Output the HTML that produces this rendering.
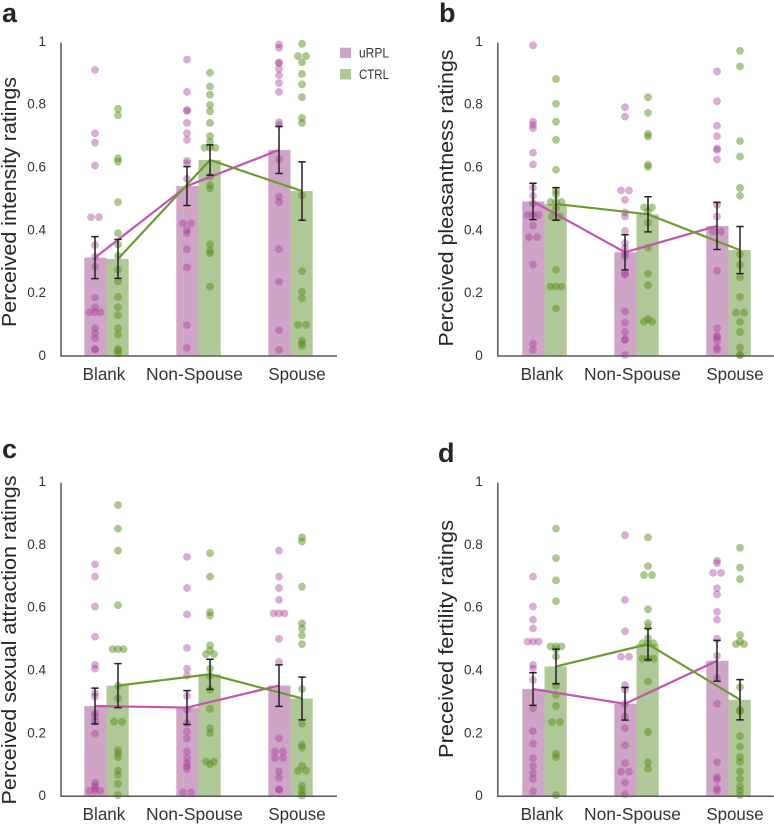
<!DOCTYPE html>
<html lang="en">
<head>
<meta charset="utf-8">
<title>Perceived ratings by odor condition</title>
<style>
html,body{margin:0;padding:0;background:#fff;}
#figure{display:block;width:774px;height:824px;font-family:"Liberation Sans",sans-serif;filter:blur(0.3px);}
</style>
</head>
<body>
<svg id="figure" xmlns="http://www.w3.org/2000/svg" width="774" height="824" viewBox="0 0 774 824"></svg>
<script>
const categories = ['Blank', 'Non-Spouse', 'Spouse'];
const yTicks = [0, 0.2, 0.4, 0.6, 0.8, 1];
const yTickLabels = ['0', '0.2', '0.4', '0.6', '0.8', '1'];

const aUrplMeans = [0.311, 0.539, 0.654];
const aCtrlMeans = [0.307, 0.622, 0.523];
const aUrplErr = [0.067, 0.062, 0.075];
const aCtrlErr = [0.062, 0.048, 0.093];
const aUrplDots = [
  [0.909,0.707,0.677,0.604,0.44,0.44,0.351,0.314,0.282,0.184,0.153,0.137,0.137,0.137,0.086,0.07,0.054,0.02,0.018],
  [0.942,0.839,0.781,0.778,0.74,0.707,0.686,0.619,0.612,0.562,0.42,0.42,0.399,0.389,0.338,0.28,0.096,0.024],
  [0.99,0.979,0.933,0.93,0.912,0.892,0.867,0.839,0.742,0.734,0.624,0.505,0.488,0.338,0.235,0.08,0.017]
];
const aCtrlDots = [
  [0.785,0.764,0.627,0.617,0.488,0.389,0.353,0.317,0.272,0.235,0.186,0.153,0.128,0.086,0.066,0.02,0.015,0.006],
  [0.9,0.856,0.83,0.797,0.777,0.74,0.698,0.68,0.661,0.661,0.661,0.569,0.542,0.532,0.353,0.333,0.325,0.219],
  [0.992,0.953,0.953,0.933,0.896,0.863,0.822,0.756,0.74,0.509,0.268,0.202,0.182,0.097,0.097,0.047,0.038,0.03]
];

const bUrplMeans = [0.49, 0.328, 0.412];
const bCtrlMeans = [0.482, 0.449, 0.335];
const bUrplErr = [0.058, 0.056, 0.075];
const bCtrlErr = [0.052, 0.056, 0.075];
const bUrplDots = [
  [0.987,0.744,0.734,0.723,0.645,0.608,0.534,0.508,0.484,0.447,0.447,0.447,0.413,0.376,0.376,0.289,0.037,0.017],
  [0.79,0.76,0.525,0.525,0.495,0.455,0.442,0.396,0.357,0.341,0.325,0.314,0.261,0.256,0.14,0.104,0.074,0.051,0.049,0.001],
  [0.904,0.809,0.731,0.698,0.659,0.654,0.624,0.479,0.442,0.394,0.394,0.269,0.086,0.062,0.057,0.047,0.025,0.017]
];
const bCtrlDots = [
  [0.88,0.801,0.744,0.686,0.591,0.524,0.513,0.488,0.488,0.488,0.468,0.442,0.442,0.272,0.219,0.219,0.219,0.149],
  [0.822,0.772,0.705,0.697,0.607,0.6,0.471,0.471,0.458,0.422,0.343,0.26,0.223,0.115,0.107,0.107],
  [0.97,0.92,0.682,0.633,0.533,0.508,0.322,0.288,0.248,0.186,0.136,0.136,0.107,0.074,0.025,0.002,0]
];

const cUrplMeans = [0.285, 0.28, 0.35];
const cCtrlMeans = [0.35, 0.386, 0.309];
const cUrplErr = [0.057, 0.054, 0.066];
const cCtrlErr = [0.07, 0.048, 0.068];
const cUrplDots = [
  [0.736,0.697,0.602,0.506,0.416,0.404,0.326,0.315,0.262,0.252,0.236,0.197,0.041,0.031,0.023,0.015,0.015,0.015],
  [0.76,0.661,0.577,0.47,0.404,0.382,0.317,0.273,0.23,0.204,0.182,0.14,0.119,0.103,0.094,0.085,0.01,0.01],
  [0.78,0.697,0.661,0.623,0.58,0.58,0.58,0.499,0.425,0.182,0.14,0.14,0.119,0.119,0.077,0.057,0.02,0.018]
];
const cCtrlDots = [
  [0.925,0.85,0.78,0.606,0.466,0.466,0.466,0.35,0.31,0.235,0.235,0.145,0.135,0.122,0.08,0.066,0.037,0.001],
  [0.772,0.697,0.584,0.573,0.478,0.462,0.45,0.45,0.404,0.381,0.337,0.276,0.214,0.199,0.108,0.108,0.1],
  [0.822,0.809,0.665,0.548,0.532,0.51,0.482,0.339,0.228,0.161,0.153,0.094,0.079,0.079,0.031,0.018,0.007,0]
];

const dUrplMeans = [0.339, 0.292, 0.429];
const dCtrlMeans = [0.411, 0.482, 0.305];
const dUrplErr = [0.052, 0.052, 0.065];
const dCtrlErr = [0.055, 0.05, 0.064];
const dUrplDots = [
  [0.697,0.602,0.56,0.532,0.49,0.49,0.49,0.416,0.404,0.368,0.278,0.205,0.165,0.119,0.094,0.071,0.053,0.013],
  [0.829,0.623,0.523,0.442,0.442,0.352,0.337,0.292,0.252,0.214,0.16,0.103,0.076,0.076,0.041,0.004],
  [0.748,0.74,0.709,0.709,0.66,0.64,0.585,0.56,0.499,0.445,0.374,0.292,0.106,0.058,0.05,0.023,0.015]
];
const dCtrlDots = [
  [0.85,0.756,0.685,0.619,0.475,0.475,0.475,0.466,0.443,0.35,0.321,0.285,0.234,0.234,0.133,0.122,0.001],
  [0.822,0.73,0.702,0.702,0.593,0.549,0.536,0.501,0.485,0.485,0.485,0.436,0.436,0.436,0.363,0.202,0.106,0.086],
  [0.789,0.726,0.689,0.511,0.49,0.482,0.482,0.345,0.273,0.268,0.189,0.156,0.122,0.107,0.077,0.053,0.029,0.015,0.001]
];

const legendLabels = ['uRPL', 'CTRL'];

const SVG_NS = 'http://www.w3.org/2000/svg';
const svg = document.getElementById('figure');
const UNIT = 314;
const STEP = 92;
const FIRST_GROUP = 106.5;
const DOT_GAP = 11.5;
const BAR_W = 22.2;
const LABEL_SHIFT = [-2.5, -4, 6.5];
const LABEL_W = [42.7, 97, 57.3];
const COLORS = {
  urpl: {bar: '#cfa5c7', dot: '#a83c98', line: '#c454ae'},
  ctrl: {bar: '#b0c797', dot: '#5a8f20', line: '#6c9c30'}
};

function make(tag, attrs, parent) {
  const el = document.createElementNS(SVG_NS, tag);
  Object.keys(attrs).forEach(function (k) { el.setAttribute(k, attrs[k]); });
  parent.appendChild(el);
  return el;
}

function swarmOffsets(values) {
  const counts = {};
  values.forEach(function (v) { counts[v] = (counts[v] || 0) + 1; });
  const seen = {};
  return values.map(function (v) {
    const n = counts[v];
    const k = seen[v] || 0;
    seen[v] = k + 1;
    if (n === 1) return 0;
    if (n === 2) return k === 0 ? -4 : 4;
    return (k - (n - 1) / 2) * 5.5;
  });
}

function drawPanel(p) {
  const g = make('g', {}, svg);
  
  
  const y = function (v) { return p.y0 - UNIT * v; };
  const x = function (i) { return FIRST_GROUP + p.dx + STEP * i; };

  const series = [
    {key: 'urpl', sign: -1, means: p.urplMeans, err: p.urplErr, dots: p.urplDots},
    {key: 'ctrl', sign: 1, means: p.ctrlMeans, err: p.ctrlErr, dots: p.ctrlDots}
  ];

  series.forEach(function (s) {
    s.means.forEach(function (m, i) {
      const left = s.sign < 0 ? x(i) - BAR_W : x(i);
      const bar = make('rect', {x: left, y: y(m), width: BAR_W, height: y(0) - y(m), fill: COLORS[s.key].bar}, g);
      
      
    });
  });

  series.forEach(function (s) {
    s.dots.forEach(function (list, i) {
      const offs = swarmOffsets(list);
      list.forEach(function (v, j) {
        const c = make('circle', {cx: x(i) + s.sign * DOT_GAP + offs[j], cy: y(v), r: 3.9, fill: COLORS[s.key].dot, 'fill-opacity': s.key === 'urpl' ? 0.42 : 0.5}, g);
        
        
      });
    });
  });

  const axis = make('path', {d: 'M' + p.axisX + ' ' + (p.y0 - 312.7) + 'V' + (p.y0 + 0.7) + 'H' + (p.axisX + 276), fill: 'none', stroke: '#595959', 'stroke-width': 1.5}, g);
  
  

  series.forEach(function (s) {
    const pts = s.means.map(function (m, i) { return (x(i) + s.sign * DOT_GAP) + ',' + y(m); }).join(' ');
    const line = make('polyline', {points: pts, fill: 'none', stroke: COLORS[s.key].line, 'stroke-width': 2.2}, g);
    
    
  });

  series.forEach(function (s) {
    s.means.forEach(function (m, i) {
      const cx = x(i) + s.sign * DOT_GAP;
      const hi = y(m + s.err[i]);
      const lo = y(m - s.err[i]);
      const d = 'M' + cx + ' ' + hi + 'V' + lo + 'M' + (cx - 3.7) + ' ' + hi + 'H' + (cx + 3.7) + 'M' + (cx - 3.7) + ' ' + lo + 'H' + (cx + 3.7);
      const e = make('path', {d: d, fill: 'none', stroke: '#222222', 'stroke-width': 1.5}, g);
      
      
    });
  });

  yTicks.forEach(function (t, i) {
    const lab = make('text', {x: p.axisX - 15, y: y(t) + 4.6, 'text-anchor': 'end', 'font-size': 13.5, fill: '#333333'}, g);
    lab.textContent = yTickLabels[i];
    
    
  });

  categories.forEach(function (c, i) {
    const lab = make('text', {x: x(i) + LABEL_SHIFT[i], y: p.y0 + 24.7, 'text-anchor': 'middle', 'font-size': 17.5, fill: '#333333', textLength: LABEL_W[i], lengthAdjust: 'spacingAndGlyphs'}, g);
    lab.textContent = c;
    
    
  });

  const title = make('text', {transform: 'translate(' + p.titleX + ' ' + p.titleY + ') rotate(-90)', 'text-anchor': 'middle', 'font-size': 20.5, fill: '#262626', textLength: p.titleLen, lengthAdjust: 'spacingAndGlyphs'}, g);
  title.textContent = p.title;
  
  

  const letter = make('text', {x: p.letterX, y: p.letterY, 'font-size': 27, 'font-weight': 700, fill: '#262626'}, g);
  letter.textContent = p.letter;
  
  
}

drawPanel({letter: 'a', title: 'Perceived intensity ratings', axisX: 61, dx: 0, y0: 355.3, titleX: 16, titleY: 202, titleLen: 250, letterX: 2, letterY: 22,
  urplMeans: aUrplMeans, ctrlMeans: aCtrlMeans, urplErr: aUrplErr, ctrlErr: aCtrlErr, urplDots: aUrplDots, ctrlDots: aCtrlDots});
drawPanel({letter: 'b', title: 'Perceived pleasantness ratings', axisX: 497.8, dx: 438, y0: 355.3, titleX: 453, titleY: 198, titleLen: 297, letterX: 439, letterY: 22,
  urplMeans: bUrplMeans, ctrlMeans: bCtrlMeans, urplErr: bUrplErr, ctrlErr: bCtrlErr, urplDots: bUrplDots, ctrlDots: bCtrlDots});
drawPanel({letter: 'c', title: 'Perceived sexual attraction ratings', axisX: 61, dx: 0, y0: 795.5, titleX: 16, titleY: 640, titleLen: 329, letterX: 2, letterY: 458,
  urplMeans: cUrplMeans, ctrlMeans: cCtrlMeans, urplErr: cUrplErr, ctrlErr: cCtrlErr, urplDots: cUrplDots, ctrlDots: cCtrlDots});
drawPanel({letter: 'd', title: 'Preceived fertility ratings', axisX: 497.8, dx: 438, y0: 795.5, titleX: 453, titleY: 639, titleLen: 238, letterX: 438, letterY: 462,
  urplMeans: dUrplMeans, ctrlMeans: dCtrlMeans, urplErr: dUrplErr, ctrlErr: dCtrlErr, urplDots: dUrplDots, ctrlDots: dCtrlDots});

const legend = make('g', {}, svg);


legendLabels.forEach(function (label, i) {
  const key = i === 0 ? 'urpl' : 'ctrl';
  const swatch = make('rect', {x: 340, y: 47.7 + 21.3 * i, width: 11, height: 10.4, fill: COLORS[key].bar}, legend);
  
  
  const txt = make('text', {x: 359, y: 57.5 + 21.3 * i, 'font-size': 13.5, fill: '#333333', textLength: 30, lengthAdjust: 'spacingAndGlyphs'}, legend);
  txt.textContent = label;
  
  
});
</script>
</body>
</html>
